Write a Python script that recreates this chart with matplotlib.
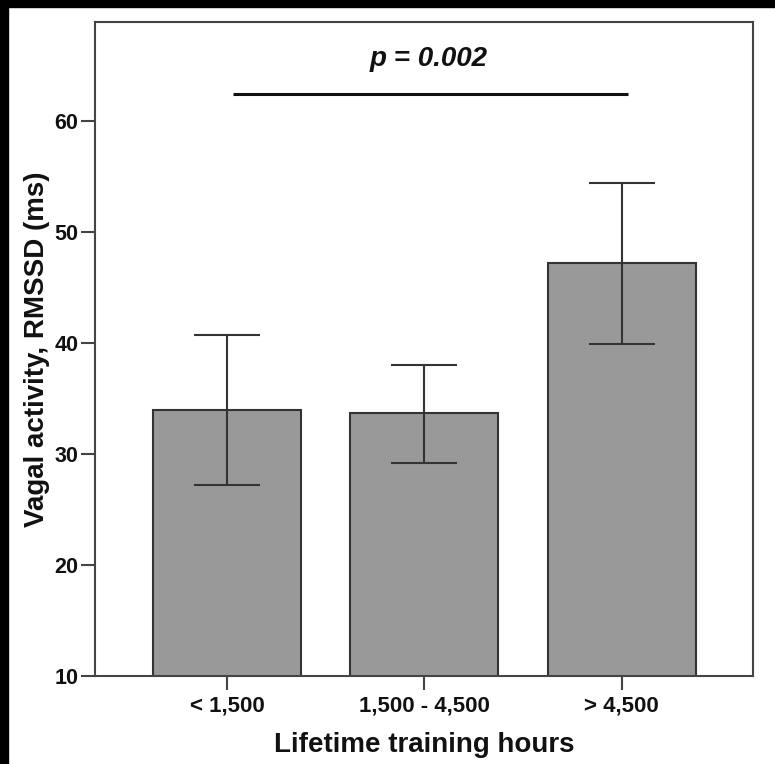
import matplotlib.pyplot as plt
from matplotlib.patches import Rectangle

plt.rcParams['font.family'] = ['Liberation Sans', 'DejaVu Sans']
plt.rcParams['font.weight'] = 'bold'

groups = ['< 1,500', '1,500 - 4,500', '> 4,500']
rmssd = [34.0, 33.7, 47.2]
ci_low = [27.2, 29.2, 39.9]
ci_high = [40.7, 38.0, 54.4]
p_label = 'p = 0.002'

fig = plt.figure(figsize=(7.75, 7.64), dpi=100)
ax = fig.add_axes([0.1226, 0.1152, 0.849, 0.856])

x = list(range(len(groups)))
yerr = [[m - lo for m, lo in zip(rmssd, ci_low)],
        [hi - m for m, hi in zip(rmssd, ci_high)]]
ax.bar(x, rmssd, width=0.75, bottom=0, color='#999999', edgecolor='#333333',
       linewidth=1.5, zorder=2)
ax.errorbar(x, rmssd, yerr=yerr, fmt='none', ecolor='#333333', elinewidth=1.5,
            capsize=24, capthick=1.5, zorder=3)

# significance bar across the outer groups
ax.plot([0.03, 2.03], [62.4, 62.4], color='#111111', linewidth=2.2,
        solid_capstyle='butt', zorder=3)
ax.text(1.02, 65.6, p_label, ha='center', va='center', fontsize=20,
        fontweight='bold', style='italic', color='#111111')

ax.set_xlim(-0.668, 2.665)
ax.set_ylim(10, 68.9)
ax.set_yticks([10, 20, 30, 40, 50, 60])
ax.set_xticks(x)
ax.set_xticklabels(groups)

for s in ax.spines.values():
    s.set_color('#444444')
    s.set_linewidth(1.5)
ax.tick_params(axis='both', length=10, width=1.5, color='#444444',
               labelcolor='#111111')
ax.tick_params(axis='y', pad=2, labelsize=15.5)
ax.tick_params(axis='x', pad=4, labelsize=16)

ax.set_xlabel('Lifetime training hours', fontsize=20, fontweight='bold',
              color='#111111', labelpad=11)
ax.set_ylabel('Vagal activity, RMSSD (ms)', fontsize=20, fontweight='bold',
              color='#111111', labelpad=3)

# dark frame on the top and left edges
fig.patches.append(Rectangle((0, 1 - 7 / 764), 1, 7 / 764, transform=fig.transFigure,
                             color='black', zorder=10))
fig.patches.append(Rectangle((0, 0), 8 / 775, 1, transform=fig.transFigure,
                             color='black', zorder=10))

fig.savefig('out.png', dpi=100)
